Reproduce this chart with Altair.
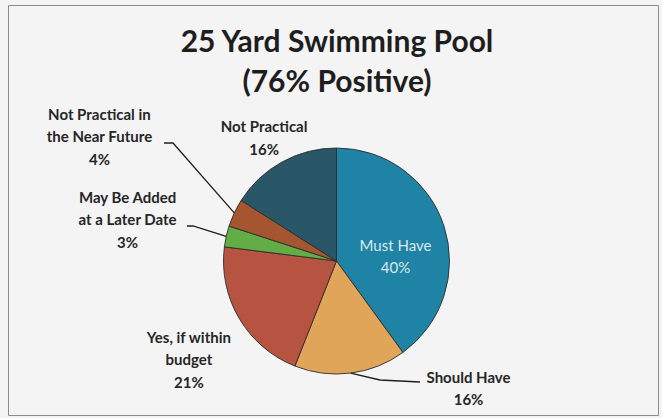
import math
import altair as alt
import pandas as pd

# ---- data ----
categories = [
    "Must Have",
    "Should Have",
    "Yes, if within budget",
    "May Be Added at a Later Date",
    "Not Practical in the Near Future",
    "Not Practical",
]
label_names = [
    "Must Have",
    "Should Have",
    "Yes, if within\nbudget",
    "May Be Added\nat a Later Date",
    "Not Practical in\nthe Near Future",
    "Not Practical",
]
percents = [40, 16, 21, 3, 4, 16]
colors = ["#1f83a6", "#e1a55a", "#b65441", "#62ad45", "#a5552f", "#2a5767"]
title_lines = ["25 Yard Swimming Pool", "(76% Positive)"]

# ---- layout (view coordinates) ----
W, H = 650, 410
PAD = {"left": 8, "top": 5, "right": 4, "bottom": 3}
CX, CY, R = 328.5, 256, 113
FONT = "Lato"
LH = 22.5

# per-label: radius from pie centre, dx, dy (block centre), weight, colour
label_layout = {
    "Must Have": (62, 0, 15, "normal", "#d9e9ef"),
    "Should Have": (128, 116, 1, "bold", "#262626"),
    "Yes, if within budget": (175, 3, 10, "bold", "#262626"),
    "May Be Added at a Later Date": (210, -4, 5, "bold", "#262626"),
    "Not Practical in the Near Future": (262, 0, -12, "bold", "#262626"),
    "Not Practical": (142, -4, 2, "bold", "#262626"),
}
# leader lines: elbow point and end point next to label (view coords)
leader_layout = {
    "Should Have": [(372, 375), (412, 377)],
    "May Be Added at a Later Date": [(185, 221), (179, 221)],
    "Not Practical in the Near Future": [(165, 138), (156, 138)],
}

df = pd.DataFrame({
    "idx": list(range(len(categories))),
    "category": categories,
    "pct": percents,
    "label": [f"{n}\n{p}%" for n, p in zip(label_names, percents)],
})

# leader lines start at the pie edge, at the slice's mid-angle (from the data)
total = sum(percents)
rows = []
start = 0
for cat, p in zip(categories, percents):
    mid = (start + p / 2) / total * 2 * math.pi
    start += p
    if cat in leader_layout:
        pts = [(CX + R * math.sin(mid), CY - R * math.cos(mid))] + leader_layout[cat]
        for k, (x, y) in enumerate(pts):
            rows.append({"category": cat, "pt": k, "x": x, "y": y})
lead_df = pd.DataFrame(rows)

base = alt.Chart(df).encode(
    theta=alt.Theta("pct:Q", stack=True),
    order=alt.Order("idx:Q"),
    x=alt.value(CX),
    y=alt.value(CY),
)

arcs = base.mark_arc(radius=R, stroke="#2e2e2e", strokeWidth=0.9).encode(
    color=alt.Color("category:N", scale=alt.Scale(domain=categories, range=colors), legend=None)
)

label_layers = []
for cat, name in zip(categories, label_names):
    r, dx, dy, weight, col = label_layout[cat]
    n_lines = name.count("\n") + 2
    label_layers.append(
        base.mark_text(
            radius=r, dx=dx, dy=dy - (n_lines - 1) * LH / 2, lineBreak="\n", lineHeight=LH,
            font=FONT, fontSize=15, fontWeight=weight, color=col,
            align="center", baseline="middle",
        ).encode(
            text=alt.condition(alt.datum.category == cat, "label:N", alt.value(""))
        )
    )

leaders = alt.Chart(lead_df).mark_line(color="#1e1e1e", strokeWidth=1.3).encode(
    x=alt.X("x:Q", scale=None),
    y=alt.Y("y:Q", scale=None),
    detail="category:N",
    order="pt:Q",
)

title = alt.Chart(pd.DataFrame({"t": ["\n".join(title_lines)]})).mark_text(
    font=FONT, fontSize=30, fontWeight="bold", color="#1e1e1e",
    lineBreak="\n", lineHeight=40, align="center", baseline="alphabetic",
).encode(text="t:N", x=alt.value(329), y=alt.value(47))

chart = alt.layer(arcs, *label_layers, leaders, title).properties(
    width=W, height=H, padding=PAD, autosize="none", background="#f4f4f4"
).configure_view(stroke="#8c8c8c", strokeWidth=1)

chart.save("out.html", embed_options={"renderer": "svg", "actions": False})
